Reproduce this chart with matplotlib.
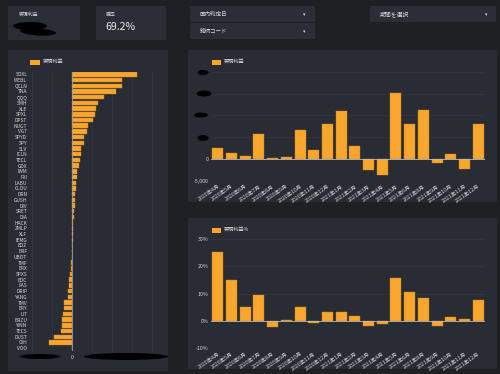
import matplotlib
matplotlib.use("Agg")
import matplotlib.pyplot as plt
from matplotlib.patches import Rectangle, Ellipse

plt.rcParams['font.family'] = ['Noto Sans CJK JP', 'DejaVu Sans']

# ---------------- data ----------------
tickers = ["SOXL", "WEBL", "QCLN", "TNA", "QQQ", "SMH", "XLE", "SPXL", "DPST", "NUGT",
           "VGT", "SPYD", "SPY", "SLV", "ICLN", "TECL", "GDX", "IWM", "FXI", "LABU",
           "CLOU", "DRN", "GUSH", "DIV", "SRET", "DIA", "HACK", "ZMLP", "XLF", "IEMG",
           "EDZ", "BRF", "UBOT", "TMF", "ERX", "SPXS", "EDC", "FAS", "DRIP", "YANG",
           "TMV", "ERY", "LIT", "BRZU", "YINN", "TECS", "DUST", "OIH", "VOO"]
ticker_profit = [65000, 49700, 49700, 44000, 31700, 26000, 24000, 22700, 21000, 16000,
                 15000, 12000, 11700, 9300, 9300, 7700, 6700, 5300, 5300, 3700,
                 3700, 3300, 3300, 3000, 2000, 2000, 1300, 1000, 700, 500,
                 300, 100, -300, -600, -1300, -1700, -2700, -3000, -3700, -4000,
                 -7700, -8300, -9300, -9700, -10000, -11000, -17700, -22700, -100]

months = ["2020年4月", "2020年5月", "2020年6月", "2020年7月", "2020年8月", "2020年9月",
          "2020年10月", "2020年11月", "2020年12月", "2021年1月", "2021年2月", "2021年3月",
          "2021年4月", "2021年5月", "2021年6月", "2021年8月", "2021年9月", "2021年10月",
          "2021年11月", "2021年12月"]
monthly_profit = [2450, 1450, 760, 5730, 230, 380, 6650, 2000, 7950, 11080,
                  2980, -2370, -3590, 15060, 8100, 11160, -770, 1070, -2220, 7950]
monthly_pct = [25.2, 14.9, 5.0, 9.6, -2.1, 0.4, 5.0, -0.85, 3.2, 3.2,
               1.8, -1.7, -1.1, 15.7, 10.6, 8.5, -1.8, 1.3, 0.6, 7.7]
profit_ticks = [-5000, 0, 5000, 10000, 15000, 20000]
profit_ticklabels = ["-5,000", "0", "", "", "", ""]
pct_ticks = [-10, 0, 10, 20, 30]
pct_ticklabels = ["-10%", "0%", "10%", "20%", "30%"]
win_rate = "69.2%"

# ---------------- style ----------------
BG = '#1f2024'
PANEL = '#2a2c34'
CARD = '#2c2e36'
BAR = '#f8a62e'
EDGE = '#c9841f'
TXT = '#d6d7d9'
GRID = '#343741'

W, H = 500, 374
fig = plt.figure(figsize=(5, 3.74), dpi=100, facecolor=BG)

def fx(x): return x / W
def fy(y): return 1 - y / H

def rect(x0, y0, x1, y1, color, z=-10):
    fig.patches.append(Rectangle((fx(x0), fy(y1)), (x1 - x0) / W, (y1 - y0) / H,
                                 transform=fig.transFigure, facecolor=color,
                                 edgecolor='none', lw=0, zorder=z))

def blob(cx, cy, w, h, angle=0):
    fig.patches.append(Ellipse((fx(cx), fy(cy)), w / W, h / H, angle=angle,
                               transform=fig.transFigure, facecolor='black',
                               edgecolor='none', zorder=20))

def txt(x, y, s, size=3.6, **kw):
    fig.text(fx(x), fy(y), s, fontsize=size, color=kw.pop('color', TXT),
             va=kw.pop('va', 'center'), ha=kw.pop('ha', 'left'), **kw)

# top cards
rect(8, 6, 80, 40, CARD)
txt(19, 14, "実現利益", size=3.5)
blob(30, 26, 34, 8, 0)
blob(38, 32, 36, 7, -5)
rect(96, 6, 166, 40, CARD)
txt(106, 14, "勝率", size=3.5)
txt(105, 27, win_rate, size=7.6, color='#e8e8ea')

# dropdowns
rect(190, 6, 315, 39, CARD)
rect(190, 22.3, 315, 22.8, BG, z=-9)
txt(200, 14.5, "国内約定日", size=4.0)
txt(304, 15, "▾", size=3.5, ha='center')
txt(200, 31, "銘柄コード", size=4.0)
txt(304, 31.5, "▾", size=3.5, ha='center')
rect(370, 6, 496, 22, CARD)
txt(380, 14.5, "期間を選択", size=4.2)
txt(486, 15, "▾", size=3.5, ha='center')

# panels
rect(8, 50, 168, 371, PANEL)
rect(188, 50, 497, 202, PANEL)
rect(188, 218, 497, 369, PANEL)

# legends
rect(30, 60, 40, 64.5, BAR, z=5)
txt(43, 62.3, "実現利益", size=3.7)
rect(212, 60, 221, 65, BAR, z=5)
txt(224, 62.5, "実現利益", size=3.7)
rect(212, 228, 221, 232.5, BAR, z=5)
txt(224, 230.3, "実現利益%", size=3.7)

def style_ax(ax):
    ax.set_facecolor('none')
    for s in ax.spines.values():
        s.set_visible(False)
    ax.tick_params(length=0, colors=TXT, labelsize=3.8, pad=2)

# ---------------- left horizontal bar chart ----------------
axL = fig.add_axes([fx(30), fy(351), 133 / W, (351 - 71.5) / H])
style_ax(axL)
ypos = list(range(len(tickers)))
axL.barh(ypos, ticker_profit, height=0.78, color=BAR, edgecolor=EDGE, linewidth=0.3, zorder=3)
axL.set_yticks(ypos)
axL.set_yticklabels(tickers, fontsize=3.5)
axL.set_ylim(len(tickers) - 0.5, -0.5)
axL.set_xlim(-42000, 91000)
axL.set_xticks([-40000, -20000, 0, 20000, 40000, 60000, 80000])
axL.set_xticklabels(["", "", "0", "", "", "", ""])
axL.tick_params(axis='x', pad=3)
axL.grid(axis='x', color=GRID, lw=0.5, zorder=0)
axL.axvline(0, color='#9aa0aa', lw=0.6, zorder=4)
blob(40, 356.5, 40, 5)
blob(126, 356.5, 84, 7)

# ---------------- top right: monthly profit ----------------
xpos = list(range(len(months)))
axT = fig.add_axes([fx(211), fy(181), 274 / W, (181 - 71.7) / H])
style_ax(axT)
axT.bar(xpos, monthly_profit, width=0.8, color=BAR, edgecolor=EDGE, linewidth=0.3, zorder=3)
axT.set_xlim(-0.5, len(months) - 0.5)
axT.set_ylim(-5000, 20000)
axT.set_yticks(profit_ticks)
axT.set_yticklabels(profit_ticklabels)
axT.set_xticks(xpos)
axT.set_xticklabels(months, rotation=35, ha='right', va='top', rotation_mode='anchor', fontsize=3.8)
axT.grid(axis='y', color=GRID, lw=0.5, zorder=0)
axT.axhline(0, color='#b8bcc4', lw=0.6, zorder=4)
blob(203, 72.5, 11, 5)
blob(204, 93.5, 15, 6)
blob(201, 115, 14, 5)
blob(203, 138, 11, 6)

# ---------------- bottom right: monthly pct ----------------
axB = fig.add_axes([fx(211), fy(348.3), 274 / W, (348.3 - 239) / H])
style_ax(axB)
axB.bar(xpos, monthly_pct, width=0.8, color=BAR, edgecolor=EDGE, linewidth=0.3, zorder=3)
axB.set_xlim(-0.5, len(months) - 0.5)
axB.set_ylim(-10, 30)
axB.set_yticks(pct_ticks)
axB.set_yticklabels(pct_ticklabels)
axB.set_xticks(xpos)
axB.set_xticklabels(months, rotation=35, ha='right', va='top', rotation_mode='anchor', fontsize=3.8)
axB.grid(axis='y', color=GRID, lw=0.5, zorder=0)
axB.axhline(0, color='#b8bcc4', lw=0.6, zorder=4)

fig.savefig("out.png", dpi=100, facecolor=BG)
